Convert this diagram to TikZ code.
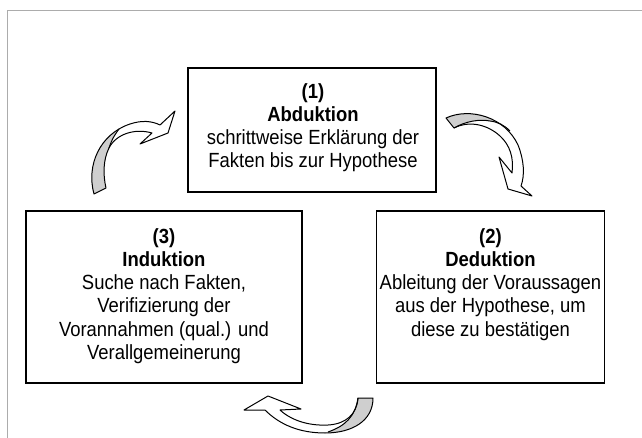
\documentclass[tikz,border=0pt]{standalone}
\usepackage{fontspec}
\setmainfont{Liberation Sans}[FakeStretch=0.9]
\begin{document}
% outlines of the three curved block arrows (1 unit = 1pt, y downwards)
\newcommand\arrowUpPath{(94,194) .. controls (86,165) and (100,134) .. (130,124)
  .. controls (142,120) and (152,121) .. (160,125) -- (175,111) -- (168,133)
  -- (140,144) -- (152,133) .. controls (135,128) and (116,134) .. (109,148)
  .. controls (103,160) and (103,175) .. (106,188) -- cycle}
\newcommand\arrowDownPath{(446,118) .. controls (470,107) and (505,117) .. (518,145)
  .. controls (524,160) and (525,175) .. (521,186) -- (532,196) -- (508,189)
  -- (499,157) -- (512,173) .. controls (514,158) and (510,145) .. (500,136)
  .. controls (488,125) and (470,120) .. (454,128) -- cycle}
\newcommand\arrowBackPath{(373,398) .. controls (373,421) and (352,433) .. (325,433)
  .. controls (300,433) and (280,425) .. (265,410) -- (244,410) -- (268,396)
  -- (301,409) -- (280,410) .. controls (292,421) and (310,426) .. (328,425)
  .. controls (346,424) and (357,414) .. (358,398) -- cycle}
\begin{tikzpicture}[x=1pt,y=-1pt,
  stepbox/.style={draw=black,line width=1.2pt,fill=white,inner sep=0pt},
  boxtext/.style={align=center,inner sep=0pt,text=black,
    font=\fontsize{20.5}{23.3}\selectfont},
  arrowline/.style={draw=black,line width=1pt,line join=round},
  arrowshade/.style={fill=gray!38}]
\useasboundingbox (0,0) rectangle (642,438);

% page frame
\draw[gray!65,line width=1pt] (7,438) -- (7,11) -- (642,11);

% the three steps
\node[stepbox,minimum width=248pt,minimum height=124pt] (abd) at (312,130) {};
\node[stepbox,minimum width=276pt,minimum height=172pt] (ind) at (164,297) {};
\node[stepbox,minimum width=228pt,minimum height=172pt] (ded) at (490.5,297) {};

\node[boxtext,anchor=north] (abdtext) at (313,83)
  {\textbf{(1)}\\\textbf{Abduktion}\\schrittweise Erklärung der\\Fakten bis zur Hypothese};
\node[boxtext,anchor=north] (indtext) at (164,228)
  {\textbf{(3)}\\\textbf{Induktion}\\Suche nach Fakten,\\Verifizierung der\\Vorannahmen (qual.) und\\Verallgemeinerung};
\node[boxtext,anchor=north] (dedtext) at (490.5,228)
  {\textbf{(2)}\\\textbf{Deduktion}\\Ableitung der Voraussagen\\aus der Hypothese, um\\diese zu bestätigen};

% arrow from (3) up to (1)
\fill[white] \arrowUpPath;
\begin{scope}
  \clip \arrowUpPath;
  \fill[arrowshade] (106,188) .. controls (103,175) and (103,160) .. (109,148)
    .. controls (111,142) and (113,137) .. (119,129) -- (80,129) -- (80,200) -- cycle;
\end{scope}
\draw[arrowline] (109,148) .. controls (111,142) and (113,137) .. (119,129);
\draw[arrowline] \arrowUpPath;

% arrow from (1) down to (2)
\fill[white] \arrowDownPath;
\begin{scope}
  \clip \arrowDownPath;
  \fill[arrowshade] (454,128) .. controls (466,121) and (480,119) .. (490,121)
    .. controls (498,122) and (504,125) .. (510,131) -- (510,100) -- (440,100) -- (440,135) -- cycle;
\end{scope}
\draw[arrowline] (454,128) .. controls (466,121) and (480,119) .. (490,121)
  .. controls (498,122) and (504,125) .. (510,131);
\draw[arrowline] \arrowDownPath;

% arrow from (2) back to (3)
\fill[white] \arrowBackPath;
\begin{scope}
  \clip \arrowBackPath;
  \fill[arrowshade] (358,398) .. controls (355,417) and (345,426) .. (328,432)
    -- (328,440) -- (380,440) -- (380,395) -- cycle;
\end{scope}
\draw[arrowline] (358,398) .. controls (355,417) and (345,426) .. (328,432);
\draw[arrowline] \arrowBackPath;
\end{tikzpicture}
\end{document}
